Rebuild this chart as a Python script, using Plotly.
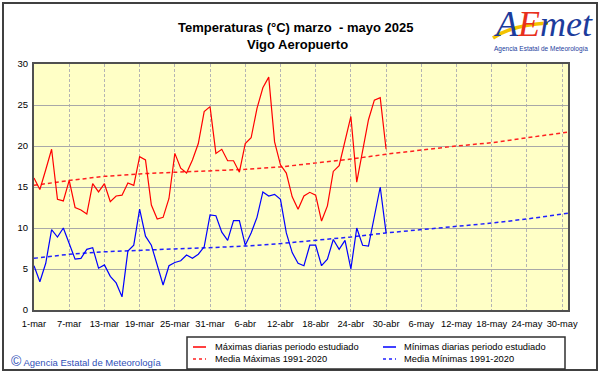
import pandas as pd
import plotly.graph_objects as go

# ---------------- data ----------------
start_date = "2025-03-01"
tmax = [16.1, 14.7, 17.1, 19.6, 13.5, 13.3, 15.8, 12.5, 12.2, 11.7,
        15.4, 14.4, 15.4, 13.2, 13.9, 14.0, 15.5, 15.2, 18.7, 18.3,
        12.8, 11.1, 11.3, 13.6, 19.1, 17.3, 16.7, 18.3, 20.3, 24.2,
        24.8, 19.1, 19.6, 18.2, 18.2, 16.8, 20.3, 21.0, 24.6, 27.1,
        28.4, 20.5, 17.7, 16.7, 13.8, 12.3, 13.9, 14.35, 14.0, 10.85,
        12.7, 16.9, 17.6, 20.5, 23.6, 15.6, 19.4, 23.2, 25.6, 25.9,
        19.6]
tmin = [5.4, 3.45, 5.7, 9.8, 8.9, 10.0, 8.1, 6.2, 6.3, 7.4,
        7.6, 5.1, 5.5, 4.1, 3.3, 1.6, 7.2, 7.9, 12.3, 9.0,
        7.9, 5.5, 3.05, 5.4, 5.8, 6.0, 6.7, 6.3, 6.8, 7.7,
        11.6, 11.5, 9.5, 8.5, 10.9, 10.9, 7.9, 9.4, 11.3, 14.4,
        13.9, 14.1, 13.5, 9.4, 7.0, 5.7, 5.4, 7.9, 7.9, 5.4,
        6.2, 8.6, 7.4, 8.5, 5.0, 10.0, 7.9, 7.8, 11.3, 15.0,
        9.4]
norm_dates = ["2025-03-01", "2025-03-07", "2025-03-13", "2025-03-19", "2025-03-25",
              "2025-03-31", "2025-04-06", "2025-04-12", "2025-04-18", "2025-04-24",
              "2025-04-30", "2025-05-06", "2025-05-12", "2025-05-18", "2025-05-24",
              "2025-05-30", "2025-05-31"]
norm_max = [15.2, 15.8, 16.3, 16.6, 16.8, 17.0, 17.15, 17.45, 17.9, 18.4,
            19.0, 19.5, 20.0, 20.4, 21.0, 21.6, 21.7]
norm_min = [6.3, 6.8, 7.1, 7.3, 7.45, 7.6, 7.8, 8.1, 8.5, 8.9,
            9.4, 9.8, 10.2, 10.6, 11.1, 11.7, 11.8]
tick_dates = ["2025-03-01", "2025-03-07", "2025-03-13", "2025-03-19", "2025-03-25",
              "2025-03-31", "2025-04-06", "2025-04-12", "2025-04-18", "2025-04-24",
              "2025-04-30", "2025-05-06", "2025-05-12", "2025-05-18", "2025-05-24",
              "2025-05-30"]
tick_labels = ["1-mar", "7-mar", "13-mar", "19-mar", "25-mar", "31-mar", "6-abr",
               "12-abr", "18-abr", "24-abr", "30-abr", "6-may", "12-may", "18-may",
               "24-may", "30-may"]
y_ticks = [0, 5, 10, 15, 20, 25, 30]
legend_labels = ["Máximas diarias periodo estudiado", "Mínimas diarias periodo estudiado",
                 "Media Máximas 1991-2020", "Media Mínimas 1991-2020"]

dates = pd.date_range(start_date, periods=len(tmax), freq="D")

# ---------------- layout geometry ----------------
W, H = 601, 374
L, R, T, B = 34, 568, 64, 310
PW, PH = R - L, B - T


def px(x):
    return (x - L) / PW


def py(y):
    return (B - y) / PH


RED = "#FF0000"
BLUE = "#0000FF"
FONT = "Liberation Sans, Arial, sans-serif"

fig = go.Figure()
fig.add_trace(go.Scatter(x=norm_dates, y=norm_max, mode="lines",
                         line=dict(color="#FF2020", width=1.5, dash="4px,3px"),
                         showlegend=False, hoverinfo="skip"))
fig.add_trace(go.Scatter(x=norm_dates, y=norm_min, mode="lines",
                         line=dict(color="#2020FF", width=1.5, dash="4px,3px"),
                         showlegend=False, hoverinfo="skip"))
fig.add_trace(go.Scatter(x=dates, y=tmax, mode="lines",
                         line=dict(color=RED, width=1.2), showlegend=False))
fig.add_trace(go.Scatter(x=dates, y=tmin, mode="lines",
                         line=dict(color=BLUE, width=1.2), showlegend=False))

shapes = []
annotations = []

# outer frame
shapes.append(dict(type="rect", xref="paper", yref="paper",
                   x0=px(3), x1=px(597), y0=py(3), y1=py(370),
                   line=dict(color="#404040", width=2), layer="below"))

# legend box
shapes.append(dict(type="rect", xref="paper", yref="paper",
                   x0=px(187), x1=px(565), y0=py(337), y1=py(369),
                   line=dict(color="#303030", width=1.5), fillcolor="white"))
rows = [347, 359]
cols = [(193, 206, 213), (383, 396, 402)]
styles = [(RED, "solid"), (BLUE, "solid"), ("#FF2020", "3px,3px"), ("#2020FF", "3px,3px")]
for i, lab in enumerate(legend_labels):
    r, c = divmod(i, 2)
    x0, x1, xt = cols[c]
    yy = rows[r]
    color, dash = styles[i]
    shapes.append(dict(type="line", xref="paper", yref="paper",
                       x0=px(x0), x1=px(x1), y0=py(yy), y1=py(yy),
                       line=dict(color=color, width=1.5, dash=dash)))
    annotations.append(dict(text=lab, xref="paper", yref="paper",
                            x=px(xt), y=py(yy), xanchor="left", yanchor="middle",
                            showarrow=False, font=dict(family=FONT, size=9.3, color="black")))

# title
annotations.append(dict(text="<b>Temperaturas (°C) marzo  - mayo 2025</b>",
                        xref="paper", yref="paper", x=px(295), y=py(27),
                        xanchor="center", yanchor="middle", showarrow=False,
                        font=dict(family=FONT, size=13, color="black")))
annotations.append(dict(text="<b>Vigo Aeropuerto</b>",
                        xref="paper", yref="paper", x=px(297), y=py(44),
                        xanchor="center", yanchor="middle", showarrow=False,
                        font=dict(family=FONT, size=13, color="black")))

# footer
annotations.append(dict(text="<span style='font-size:14px'>©</span> Agencia Estatal de Meteorología",
                        xref="paper", yref="paper", x=px(9), y=py(361),
                        xanchor="left", yanchor="middle", showarrow=False,
                        font=dict(family=FONT, size=9.5, color="#3050B8")))

# logo
shapes.append(dict(type="path", xref="paper", yref="paper",
                   path=f"M {px(493)},{py(38)} Q {px(512)},{py(25)} {px(548)},{py(23)}",
                   line=dict(color="#F2C200", width=3.5)))
annotations.append(dict(text="<i><span style='color:#1C3C9C'>A</span>"
                             "<span style='color:#E8301C'>E</span>"
                             "<span style='color:#1C3C9C'>met</span></i>",
                        xref="paper", yref="paper", x=px(543), y=py(24),
                        xanchor="center", yanchor="middle", showarrow=False,
                        font=dict(family="Liberation Serif, serif", size=36, color="#1C3C9C")))
annotations.append(dict(text="Agencia Estatal de Meteorología",
                        xref="paper", yref="paper", x=px(541), y=py(49),
                        xanchor="center", yanchor="middle", showarrow=False,
                        font=dict(family=FONT, size=6.5, color="#1C3C9C")))

fig.update_layout(
    width=W, height=H,
    margin=dict(l=L, r=W - R, t=T, b=H - B, pad=0),
    paper_bgcolor="white",
    plot_bgcolor="#FFFFC6",
    shapes=shapes,
    annotations=annotations,
    showlegend=False,
    font=dict(family=FONT, size=10, color="black"),
)
fig.update_xaxes(
    range=["2025-03-01", "2025-05-31"],
    tickmode="array", tickvals=tick_dates, ticktext=tick_labels, tickangle=0,
    showgrid=True, gridcolor="#B4B4B4", griddash="3px,2px", gridwidth=1,
    showline=True, mirror=True, linecolor="#505050", linewidth=2,
    ticks="outside", ticklen=4, tickcolor="rgba(0,0,0,0)",
    tickfont=dict(family=FONT, size=9.3, color="black"),
    zeroline=False,
)
fig.update_yaxes(
    range=[0, 30], tickmode="array", tickvals=y_ticks,
    showgrid=True, gridcolor="#A8A8A8", gridwidth=1,
    showline=True, mirror=True, linecolor="#505050", linewidth=2,
    ticks="outside", ticklen=2, tickcolor="rgba(0,0,0,0)",
    tickfont=dict(family=FONT, size=9.5, color="black"),
    zeroline=False,
)

fig.write_html("out.html", config={"displayModeBar": False},
               post_script="document.body.style.margin='0';document.body.style.overflow='hidden';")
